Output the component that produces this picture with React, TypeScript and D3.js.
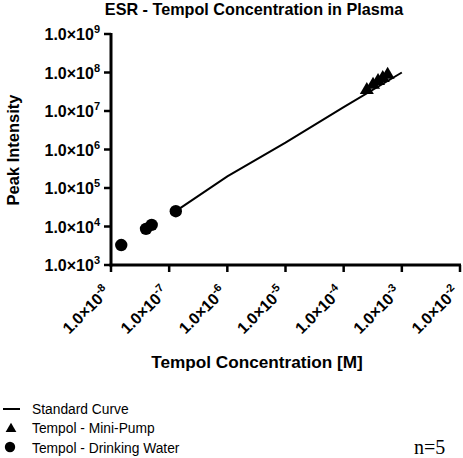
import React from "react";
import * as d3 from "d3";

const yTickExps = [3, 4, 5, 6, 7, 8, 9];
const xTickExps = [-8, -7, -6, -5, -4, -3, -2];

const curveX = [1.3e-7, 1e-6, 1e-5, 1e-4, 1e-3];
const curveY = [2.5e4, 2.0e5, 1.5e6, 1.26e7, 1.0e8];

const pumpX = [2.5e-4, 3.2e-4, 3.9e-4, 4.7e-4, 5.7e-4];
const pumpY = [3.5e7, 4.8e7, 6.0e7, 7.2e7, 8.7e7];

const waterX = [1.5e-8, 4.0e-8, 5.0e-8, 1.3e-7];
const waterY = [3.3e3, 8.7e3, 1.1e4, 2.5e4];

const legendItems = ["Standard Curve", "Tempol - Mini-Pump", "Tempol - Drinking Water"];

export default function App() {
  const W = 463, H = 458;
  const x = d3.scaleLog().domain([1e-8, 1e-2]).range([111, 460]);
  const y = d3.scaleLog().domain([1e3, 1e9]).range([265, 34]);
  const line = d3.line<number>().x((_, i) => x(curveX[i])).y((d) => y(d));
  const tri = d3.symbol().type(d3.symbolTriangle).size(85)();
  const font = "'Liberation Sans', Arial, Helvetica, sans-serif";

  return (
    <svg width={W} height={H} style={{ position: "absolute", left: 0, top: 0, background: "#fff" }} fontFamily={font}>
      <rect width={W} height={H} fill="#fff" />
      <text x={254} y={15} textAnchor="middle" fontWeight="bold" fontSize={16.2}>
        ESR - Tempol Concentration in Plasma
      </text>
      {/* axes */}
      <line x1={x(1e-8)} x2={x(1e-8)} y1={y(1e9) - 1} y2={y(1e3) + 1.5} stroke="#000" strokeWidth={3} />
      <line x1={x(1e-8) - 1.5} x2={x(1e-2) + 1} y1={y(1e3)} y2={y(1e3)} stroke="#000" strokeWidth={3} />
      {yTickExps.map((e) => (
        <g key={"y" + e}>
          <line x1={x(1e-8) - 7} x2={x(1e-8)} y1={y(Math.pow(10, e))} y2={y(Math.pow(10, e))} stroke="#000" strokeWidth={2.5} />
          <text x={x(1e-8) - 11} y={y(Math.pow(10, e)) + 6} textAnchor="end" fontWeight="bold" fontSize={16}>
            1.0×10
            <tspan fontSize={11} dy={-7}>{e}</tspan>
          </text>
        </g>
      ))}
      {xTickExps.map((e) => (
        <g key={"x" + e}>
          <line x1={x(Math.pow(10, e))} x2={x(Math.pow(10, e))} y1={y(1e3)} y2={y(1e3) + 7} stroke="#000" strokeWidth={2.5} />
          <text
            transform={`translate(${x(Math.pow(10, e)) + 0},${y(1e3) + 28}) rotate(-45)`}
            textAnchor="end"
            fontWeight="bold"
            fontSize={16}
          >
            1.0×10
            <tspan fontSize={11} dy={-7}>{e}</tspan>
          </text>
        </g>
      ))}
      <text transform="translate(19,150) rotate(-90)" textAnchor="middle" fontWeight="bold" fontSize={16.5}>
        Peak Intensity
      </text>
      <text x={257} y={368} textAnchor="middle" fontWeight="bold" fontSize={17.2}>
        Tempol Concentration [M]
      </text>
      {/* data */}
      <path d={line(curveY) || ""} fill="none" stroke="#000" strokeWidth={2} />
      {pumpX.map((v, i) => (
        <path key={"p" + i} d={tri || ""} transform={`translate(${x(v)},${y(pumpY[i])})`} fill="#000" />
      ))}
      {waterX.map((v, i) => (
        <circle key={"w" + i} cx={x(v)} cy={y(waterY[i])} r={6.2} fill="#000" />
      ))}
      {/* legend */}
      <line x1={3} x2={20} y1={409} y2={409} stroke="#000" strokeWidth={2} />
      <path d={d3.symbol().type(d3.symbolTriangle).size(50)() || ""} transform="translate(11,429)" fill="#000" />
      <circle cx={10} cy={447} r={5.2} fill="#000" />
      {legendItems.map((t, i) => (
        <text key={t} x={32} y={413.5 + i * 19.5} fontSize={13.8}>
          {t}
        </text>
      ))}
      <text x={414} y={454} fontFamily="'Liberation Serif', 'Times New Roman', serif" fontSize={20}>
        n=5
      </text>
    </svg>
  );
}
